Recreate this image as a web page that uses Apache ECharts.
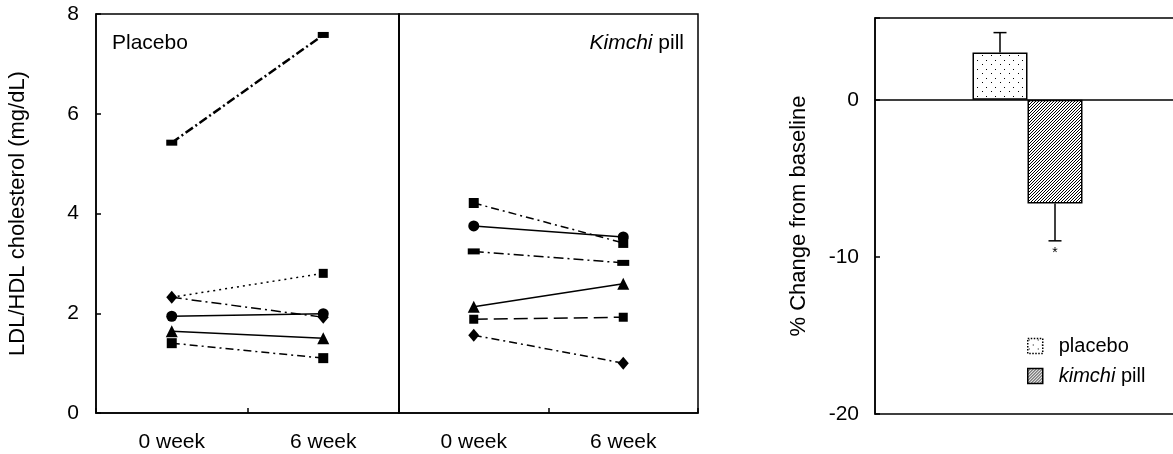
<!DOCTYPE html>
<html><head><meta charset="utf-8">
<script src="https://cdn.jsdelivr.net/npm/echarts@6/dist/echarts.min.js"></script>
<style>html,body{margin:0;padding:0;background:#fff}#c{width:1173px;height:454px}</style>
</head><body><div id="c"></div>
<script>
// ---- data ----
const weekLabels = ['0 week', '6 week'];
const placeboWeek0 = [5.42, 2.32, 2.32, 1.94, 1.64, 1.40];
const placeboWeek6 = [7.58, 2.80, 1.92, 1.99, 1.50, 1.10];
const kimchiWeek0 = [4.21, 3.75, 3.24, 2.13, 1.88, 1.56];
const kimchiWeek6 = [3.41, 3.53, 3.01, 2.59, 1.92, 1.00];
const leftAxisRange = [0, 8];
const leftAxisStep = 2;
const barGroups = ['placebo', 'kimchi pill'];
const barMeans = [3.0, -6.6];
const barErrors = [1.27, 2.38];
const rightAxisRange = [-20, 5.2];
const rightAxisStep = 10;

// ---- styles ----
const FONT = '"Liberation Sans", Arial, Helvetica, sans-serif';
const FS = 21;
const NFS = 22;
const LFS = 20;
const placeboStyles = [
  {type: [9, 3, 2, 3], width: 2.5, symbol: 'rect', size: [11, 6]},
  {type: [2, 4], width: 1.5, symbol: ['diamond', 'rect'], size: 9},
  {type: [10, 4, 2, 4], width: 1.5, symbol: 'diamond', size: [11, 13]},
  {type: 'solid', width: 1.5, symbol: 'circle', size: 11},
  {type: 'solid', width: 1.5, symbol: 'triangle', size: 12},
  {type: [8, 4, 2, 4], width: 1.5, symbol: 'rect', size: 10}
];
const kimchiStyles = [
  {type: [8, 4, 2, 4], width: 1.5, symbol: 'rect', size: 10},
  {type: 'solid', width: 1.5, symbol: 'circle', size: 11},
  {type: [10, 4, 2, 4], width: 1.5, symbol: 'rect', size: [12, 6]},
  {type: 'solid', width: 1.5, symbol: 'triangle', size: 12},
  {type: [14, 6], width: 1.5, symbol: 'rect', size: 9},
  {type: [8, 4, 2, 4], width: 1.5, symbol: 'diamond', size: [11, 13]}
];

function makeDots() {
  const c = document.createElement('canvas'); c.width = 9; c.height = 9;
  const g = c.getContext('2d');
  g.fillStyle = '#fff'; g.fillRect(0, 0, 9, 9);
  g.fillStyle = '#000'; g.fillRect(1, 1, 1, 1); g.fillRect(5, 6, 1, 1);
  return c;
}
function makeHatch() {
  const c = document.createElement('canvas'); c.width = 3; c.height = 3;
  const g = c.getContext('2d');
  g.fillStyle = '#fff'; g.fillRect(0, 0, 3, 3);
  g.strokeStyle = '#000'; g.lineWidth = 1;
  g.beginPath();
  g.moveTo(0, 3); g.lineTo(3, 0);
  g.moveTo(-1, 1); g.lineTo(1, -1);
  g.moveTo(2, 4); g.lineTo(4, 2);
  g.stroke();
  return c;
}

function lineSeries(w0, w6, styles, gi) {
  return w0.map((v, i) => {
    const s = styles[i];
    return {
      type: 'line', xAxisIndex: gi, yAxisIndex: gi,
      data: [v, w6[i]],
      symbol: Array.isArray(s.symbol) ? (val, p) => s.symbol[p.dataIndex] : s.symbol,
      symbolSize: s.size,
      showSymbol: true,
      lineStyle: {color: '#000', width: s.width, type: s.type},
      itemStyle: {color: '#000'},
      silent: true, animation: false
    };
  });
}

const chart = echarts.init(document.getElementById('c'), null, {renderer: 'canvas'});

const catAxis = (gi) => ({
  type: 'category', gridIndex: gi, data: weekLabels, boundaryGap: true,
  axisLine: {show: true, lineStyle: {color: '#000', width: 1.5}},
  axisTick: {show: true, inside: true, length: 5, lineStyle: {color: '#000', width: 1.5}},
  axisLabel: {color: '#000', fontSize: FS, fontFamily: FONT, margin: 19}
});

const barHalf = 27.5;

chart.setOption({
  animation: false,
  textStyle: {fontFamily: FONT},
  grid: [
    {left: 96, top: 14, width: 303, height: 399, show: true, borderColor: '#000', borderWidth: 1.5, outerBoundsMode: 'none'},
    {left: 399, top: 14, width: 299, height: 399, show: true, borderColor: '#000', borderWidth: 1.5, outerBoundsMode: 'none'},
    {left: 875, top: 18, width: 305, height: 396, show: true, borderColor: '#000', borderWidth: 1.5, outerBoundsMode: 'none'}
  ],
  xAxis: [
    catAxis(0), catAxis(1),
    {type: 'category', gridIndex: 2, data: [''],
     axisLine: {show: true, onZero: true, lineStyle: {color: '#000', width: 1.5}},
     axisTick: {show: false}, axisLabel: {show: false}}
  ],
  yAxis: [
    {type: 'value', gridIndex: 0, min: leftAxisRange[0], max: leftAxisRange[1], interval: leftAxisStep,
     name: 'LDL/HDL cholesterol (mg/dL)', nameLocation: 'middle', nameGap: 67,
     nameTextStyle: {color: '#000', fontSize: NFS, fontFamily: FONT},
     axisLine: {show: true, lineStyle: {color: '#000', width: 1.5}},
     axisTick: {show: true, inside: true, length: 5, lineStyle: {color: '#000', width: 1.5}},
     axisLabel: {color: '#000', fontSize: FS, fontFamily: FONT, margin: 17},
     splitLine: {show: false}},
    {type: 'value', gridIndex: 1, min: leftAxisRange[0], max: leftAxisRange[1], interval: leftAxisStep,
     axisLine: {show: true, lineStyle: {color: '#000', width: 1.5}},
     axisTick: {show: false}, axisLabel: {show: false}, splitLine: {show: false}},
    {type: 'value', gridIndex: 2, min: rightAxisRange[0], max: rightAxisRange[1], interval: rightAxisStep,
     name: '% Change from baseline', nameLocation: 'middle', nameGap: 65,
     nameTextStyle: {color: '#000', fontSize: NFS, fontFamily: FONT},
     axisLine: {show: true, lineStyle: {color: '#000', width: 1.5}},
     axisTick: {show: true, inside: true, length: 5, lineStyle: {color: '#000', width: 1.5}},
     axisLabel: {color: '#000', fontSize: FS, fontFamily: FONT, margin: 16,
                 formatter: v => (v % rightAxisStep === 0 ? String(v) : '')},
     splitLine: {show: false}}
  ],
  legend: {
    orient: 'vertical', left: 1027, top: 336, padding: 0, itemWidth: 15, itemHeight: 15, itemGap: 10,
    icon: 'rect',
    data: [
      {name: barGroups[0], itemStyle: {borderType: 'dotted', borderWidth: 1.5, borderColor: '#000'}},
      {name: barGroups[1], itemStyle: {borderWidth: 1.5, borderColor: '#000'}}
    ],
    formatter: n => (n === 'kimchi pill' ? '{i|kimchi} pill' : n),
    textStyle: {color: '#000', fontSize: LFS, fontFamily: FONT, padding: [0, 0, 0, 11],
                rich: {i: {fontStyle: 'italic', fontSize: LFS, fontFamily: FONT}}}
  },
  graphic: [
    {type: 'text', left: 112, top: 33, style: {text: 'Placebo', fontSize: FS, fontFamily: FONT, fill: '#000'}},
    {type: 'text', x: 684, y: 33, style: {text: '{i|Kimchi} pill', align: 'right', fontSize: FS, fontFamily: FONT, fill: '#000',
      rich: {i: {fontStyle: 'italic', fontSize: FS, fontFamily: FONT}}}}
  ],
  series: [
    ...lineSeries(placeboWeek0, placeboWeek6, placeboStyles, 0),
    ...lineSeries(kimchiWeek0, kimchiWeek6, kimchiStyles, 1),
    {name: barGroups[0], type: 'bar', xAxisIndex: 2, yAxisIndex: 2, data: [barMeans[0]],
     barWidth: barHalf * 2, barGap: '0%',
     itemStyle: {color: {image: makeDots(), repeat: 'repeat'}, borderColor: '#000', borderWidth: 1.5}},
    {name: barGroups[1], type: 'bar', xAxisIndex: 2, yAxisIndex: 2, data: [barMeans[1]],
     barWidth: barHalf * 2, barGap: '0%',
     itemStyle: {color: {image: makeHatch(), repeat: 'repeat'}, borderColor: '#000', borderWidth: 1.5}},
    {type: 'custom', xAxisIndex: 2, yAxisIndex: 2,
     data: barMeans.map((m, i) => [0, m, m + Math.sign(m) * barErrors[i], i]),
     encode: {x: 0, y: [1, 2]},
     renderItem: (params, api) => {
       const idx = api.value(3);
       const b = api.coord([0, api.value(1)]);
       const e = api.coord([0, api.value(2)]);
       const x = b[0] + (idx === 0 ? -barHalf : barHalf);
       const st = {stroke: '#000', lineWidth: 1.5};
       const children = [
         {type: 'line', shape: {x1: x, y1: b[1], x2: x, y2: e[1]}, style: st},
         {type: 'line', shape: {x1: x - 6.5, y1: e[1], x2: x + 6.5, y2: e[1]}, style: st}
       ];
       if (idx === 1) {
         children.push({type: 'text', x: x, y: e[1] + 5,
           style: {text: '*', fontSize: 14, fontFamily: FONT, fill: '#000', align: 'center', verticalAlign: 'top'}});
       }
       return {type: 'group', children};
     },
     silent: true}
  ]
});
</script></body></html>
